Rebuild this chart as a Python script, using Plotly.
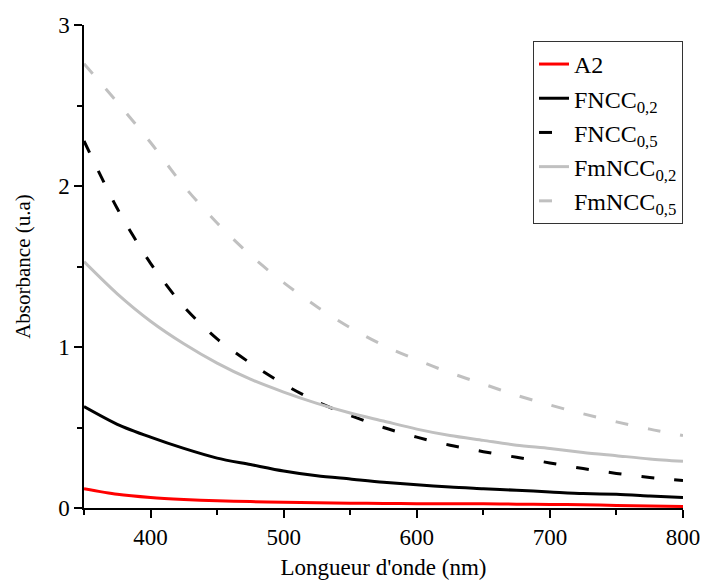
import plotly.graph_objects as go

wavelength = [350, 375, 400, 425, 450, 475, 500, 525, 550, 575, 600, 625, 650, 675, 700, 725, 750, 775, 800]
a2 = [0.12, 0.085, 0.065, 0.053, 0.045, 0.04, 0.036, 0.033, 0.03, 0.028, 0.027, 0.027, 0.026, 0.024, 0.022, 0.02, 0.016, 0.012, 0.01]
fncc_02 = [0.63, 0.52, 0.44, 0.37, 0.31, 0.27, 0.23, 0.20, 0.18, 0.16, 0.145, 0.13, 0.12, 0.11, 0.10, 0.09, 0.085, 0.075, 0.065]
fncc_05 = [2.28, 1.86, 1.52, 1.25, 1.05, 0.90, 0.77, 0.66, 0.575, 0.50, 0.44, 0.39, 0.35, 0.315, 0.28, 0.245, 0.215, 0.19, 0.17]
fmncc_02 = [1.53, 1.33, 1.16, 1.02, 0.90, 0.80, 0.72, 0.65, 0.59, 0.54, 0.49, 0.45, 0.42, 0.39, 0.37, 0.345, 0.325, 0.305, 0.29]
fmncc_05 = [2.76, 2.52, 2.27, 2.0, 1.77, 1.57, 1.40, 1.25, 1.12, 1.01, 0.92, 0.84, 0.77, 0.70, 0.64, 0.585, 0.535, 0.49, 0.45]

x_ticks = [400, 500, 600, 700, 800]
y_ticks = [0, 1, 2, 3]

series = [
    ("A2", a2, "#ff0000", "solid"),
    ("FNCC<sub>0,2</sub>", fncc_02, "#000000", "solid"),
    ("FNCC<sub>0,5</sub>", fncc_05, "#000000", "13px,20px"),
    ("FmNCC<sub>0,2</sub>", fmncc_02, "#c0c0c0", "solid"),
    ("FmNCC<sub>0,5</sub>", fmncc_05, "#c0c0c0", "13px,20px"),
]

fig = go.Figure()
for name, vals, color, dash in series:
    fig.add_trace(go.Scatter(
        x=wavelength, y=vals, name=name, mode="lines",
        line=dict(color=color, width=3, dash=dash, shape="spline", smoothing=0.8),
    ))

font = "Liberation Serif, Times New Roman, serif"
fig.update_layout(
    width=701, height=584,
    margin=dict(l=84, r=18, t=25, b=76),
    plot_bgcolor="white", paper_bgcolor="white",
    font=dict(family=font, size=23, color="black"),
    showlegend=True,
    legend=dict(
        x=1.0, xanchor="right", y=0.967, yanchor="top",
        bordercolor="#333333", borderwidth=1, bgcolor="white",
        font=dict(family=font, size=24, color="black"),
        tracegroupgap=0,
    ),
)
fig.update_xaxes(
    range=[350, 800], tickvals=x_ticks, ticktext=[str(v) for v in x_ticks],
    automargin=False,
    showgrid=False, zeroline=False, showline=True, linecolor="black", linewidth=1.5,
    ticks="outside", ticklen=8, tickwidth=1.5, tickcolor="black",
    minor=dict(tickvals=[350, 450, 550, 650, 750], ticks="outside", ticklen=5, tickwidth=1.5, tickcolor="black"),
    title=dict(text="Longueur d'onde (nm)", font=dict(size=23), standoff=10),
    tickfont=dict(size=23),
)
fig.update_yaxes(
    range=[0, 3], tickvals=y_ticks, ticktext=[str(v) for v in y_ticks],
    automargin=False,
    showgrid=False, zeroline=False, showline=True, linecolor="black", linewidth=1.5,
    ticks="outside", ticklen=8, tickwidth=1.5, tickcolor="black",
    minor=dict(tickvals=[0.5, 1.5, 2.5], ticks="outside", ticklen=5, tickwidth=1.5, tickcolor="black"),
    title=dict(text="Absorbance (u.a)", font=dict(size=21), standoff=22),
    tickfont=dict(size=23),
)

fig.write_html(
    "out.html",
    config={"displayModeBar": False},
    post_script="document.body.style.margin='0';document.body.style.overflow='hidden';",
)
